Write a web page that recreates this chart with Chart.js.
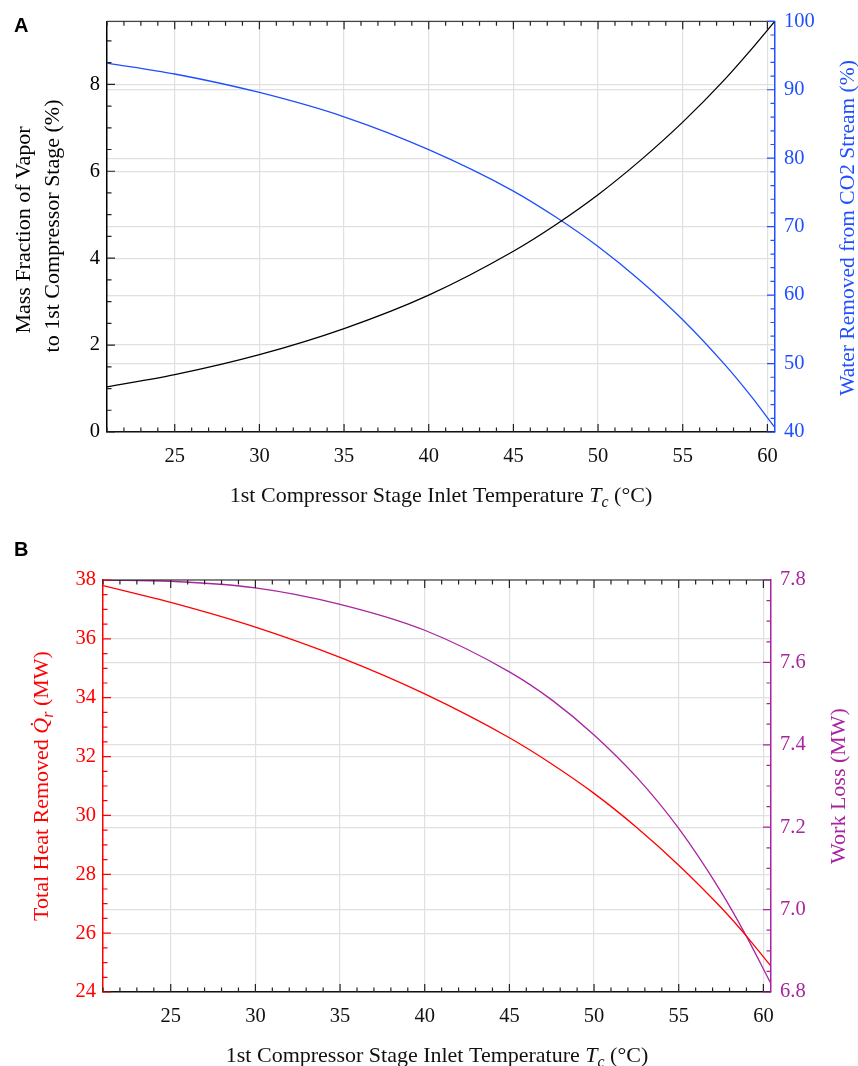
<!DOCTYPE html>
<html>
<head>
<meta charset="utf-8">
<script src="https://cdn.jsdelivr.net/npm/chart.js@4.4.1/dist/chart.umd.min.js"></script>
<style>
  html, body { margin: 0; padding: 0; background: #fff; }
  body { width: 858px; height: 1066px; position: relative; overflow: hidden; }
  .panel { position: absolute; left: 0; width: 858px; }
  #panelA { top: 0; height: 530px; }
  #panelB { top: 530px; height: 536px; }
  .tag { position: absolute; left: 14px; font: bold 20px "Liberation Sans", Arial, sans-serif; color: #000; }
</style>
</head>
<body>
<div class="panel" id="panelA"><canvas id="chartA"></canvas></div>
<div class="panel" id="panelB"><canvas id="chartB"></canvas></div>
<div class="tag" style="top:14px">A</div>
<div class="tag" style="top:538px">B</div>
<script>
// values
const tempC = [21, 25, 30, 35, 40, 45, 47.5, 50, 52.5, 55, 57.5, 59, 60.4];
const vaporFraction = [1.04, 1.32, 1.78, 2.38, 3.15, 4.16, 4.77, 5.46, 6.25, 7.13, 8.12, 8.78, 9.43];
const waterRemoved = [93.9, 92.3, 89.6, 86.05, 81.25, 75.2, 71.4, 67.1, 62.1, 56.4, 49.8, 45.35, 40.8];
const heatRemoved = [37.81, 37.24, 36.4, 35.37, 34.13, 32.64, 31.75, 30.75, 29.6, 28.31, 26.87, 25.9, 24.91];
const workLoss = [7.8, 7.797, 7.781, 7.741, 7.678, 7.577, 7.509, 7.424, 7.322, 7.197, 7.043, 6.935, 6.824];

const xTicks = [25, 30, 35, 40, 45, 50, 55, 60];
const vaporTicks = [0, 2, 4, 6, 8];
const waterTicks = [40, 50, 60, 70, 80, 90, 100];
const heatTicks = [24, 26, 28, 30, 32, 34, 36, 38];
const workTicks = [6.8, 7.0, 7.2, 7.4, 7.6, 7.8];

const BLUE = "#1f4fff";
const RED = "#ff0000";
const PURPLE = "#a8259f";
const GRID = "#e0e0e0";
const SERIF = '"Liberation Serif", "Times New Roman", serif';
const tickFont = { family: SERIF, size: 20.5 };

function points(ys) {
  return tempC.map((t, i) => ({ x: t, y: ys[i] }));
}

function minorValues(min, max, step) {
  const out = [];
  for (let k = Math.ceil(min / step - 1e-9); k * step <= max + 1e-9; k++) out.push(k * step);
  return out;
}

function drawRich(ctx, t) {
  const size = t.size || 22;
  const fontOf = p => `${p.italic ? "italic " : ""}${p.sub ? size * 0.72 : size}px ${SERIF}`;
  ctx.save();
  ctx.translate(t.x, t.y);
  ctx.rotate(t.angle || 0);
  ctx.fillStyle = t.color;
  ctx.textBaseline = "alphabetic";
  const widths = t.parts.map(p => { ctx.font = fontOf(p); return ctx.measureText(p.t).width; });
  let cx = -widths.reduce((a, b) => a + b, 0) / 2;
  t.parts.forEach((p, i) => {
    ctx.font = fontOf(p);
    ctx.fillText(p.t, cx, size * 0.33 + (p.sub ? size * 0.22 : 0));
    cx += widths[i];
  });
  ctx.restore();
}

const frameTicks = {
  id: "frameTicks",
  afterDatasetsDraw(chart, args, opts) {
    const { ctx, chartArea: a, scales } = chart;
    ctx.save();
    ctx.lineWidth = 1.2;
    ctx.strokeStyle = opts.frameColor;
    ctx.beginPath();
    ctx.moveTo(a.left, a.top);
    ctx.lineTo(a.right, a.top);
    ctx.stroke();
    opts.axes.forEach(ax => {
      const scale = scales[ax.id];
      const marks = ax.majors.map(v => [v, 8]);
      minorValues(scale.min, scale.max, ax.minorStep).forEach(v => {
        if (!ax.majors.some(m => Math.abs(m - v) < ax.minorStep / 10)) marks.push([v, 4.5]);
      });
      ctx.strokeStyle = ax.color;
      ctx.beginPath();
      marks.forEach(([v, len]) => {
        const p = scale.getPixelForValue(v);
        if (ax.side === "x") {
          ctx.moveTo(p, a.bottom); ctx.lineTo(p, a.bottom - len);
          ctx.moveTo(p, a.top); ctx.lineTo(p, a.top + len);
        } else if (ax.side === "left") {
          ctx.moveTo(a.left, p); ctx.lineTo(a.left + len, p);
        } else {
          ctx.moveTo(a.right, p); ctx.lineTo(a.right - len, p);
        }
      });
      ctx.stroke();
    });
    ctx.restore();
  },
  afterDraw(chart, args, opts) {
    opts.titles.forEach(t => drawRich(chart.ctx, t));
  }
};

function xAxis(height) {
  return {
    type: "linear",
    min: 21,
    max: 60.45,
    afterBuildTicks: s => { s.ticks = xTicks.map(v => ({ value: v })); },
    afterFit: s => { s.height = height; },
    grid: { color: GRID, lineWidth: 1.2, drawTicks: false },
    border: { color: "#111", width: 1.5 },
    ticks: { color: "#111", padding: 12, font: tickFont, maxRotation: 0 }
  };
}

function yAxis(position, min, max, values, color, width, fmt) {
  return {
    type: "linear",
    position,
    min,
    max,
    afterBuildTicks: s => { s.ticks = values.map(v => ({ value: v })); },
    afterFit: s => { s.width = width; },
    grid: { color: GRID, lineWidth: 1.2, drawTicks: false },
    border: { color, width: 1.5 },
    ticks: { color, padding: position === "left" ? 7 : 9, font: tickFont, callback: fmt || (v => v) }
  };
}

function line(label, ys, color, axis) {
  return {
    label,
    data: points(ys),
    borderColor: color,
    borderWidth: 1.3,
    pointRadius: 0,
    fill: false,
    cubicInterpolationMode: "monotone",
    yAxisID: axis
  };
}

const xTitle = [
  { t: "1st Compressor Stage Inlet Temperature " },
  { t: "T", italic: true },
  { t: "c", italic: true, sub: true },
  { t: " (\u00b0C)" }
];

new Chart(document.getElementById("chartA"), {
  type: "line",
  data: {
    datasets: [
      line("Mass Fraction of Vapor", vaporFraction, "#000", "y"),
      line("Water Removed", waterRemoved, BLUE, "y1")
    ]
  },
  options: {
    responsive: true,
    maintainAspectRatio: false,
    animation: false,
    layout: { padding: { top: 20, left: 0, right: 0, bottom: 0 } },
    scales: {
      x: xAxis(98),
      y: yAxis("left", 0, 9.45, vaporTicks, "#000", 107),
      y1: yAxis("right", 40, 100, waterTicks, BLUE, 83)
    },
    plugins: {
      legend: { display: false },
      tooltip: { enabled: false },
      frameTicks: {
        frameColor: "#444",
        axes: [
          { id: "x", side: "x", majors: xTicks, minorStep: 1, color: "#222" },
          { id: "y", side: "left", majors: vaporTicks, minorStep: 0.5, color: "#222" },
          { id: "y1", side: "right", majors: waterTicks, minorStep: 2, color: BLUE }
        ],
        titles: [
          { parts: xTitle, x: 441, y: 495, color: "#111" },
          { parts: [{ t: "Mass Fraction of Vapor" }], x: 23, y: 230, angle: -Math.PI / 2, color: "#000" },
          { parts: [{ t: "to 1st Compressor Stage (%)" }], x: 52, y: 226, angle: -Math.PI / 2, color: "#000" },
          { parts: [{ t: "Water Removed from CO2 Stream (%)" }], x: 847, y: 228, angle: -Math.PI / 2, color: BLUE, size: 21.5 }
        ]
      }
    }
  },
  plugins: [frameTicks]
});

new Chart(document.getElementById("chartB"), {
  type: "line",
  data: {
    datasets: [
      line("Total Heat Removed", heatRemoved, RED, "y"),
      line("Work Loss", workLoss, PURPLE, "y1")
    ]
  },
  options: {
    responsive: true,
    maintainAspectRatio: false,
    animation: false,
    layout: { padding: { top: 50, left: 0, right: 0, bottom: 0 } },
    scales: {
      x: xAxis(74),
      y: yAxis("left", 24, 38, heatTicks, RED, 103),
      y1: yAxis("right", 6.8, 7.8, workTicks, PURPLE, 87, v => v.toFixed(1))
    },
    plugins: {
      legend: { display: false },
      tooltip: { enabled: false },
      frameTicks: {
        frameColor: "#222",
        axes: [
          { id: "x", side: "x", majors: xTicks, minorStep: 1, color: "#222" },
          { id: "y", side: "left", majors: heatTicks, minorStep: 0.5, color: RED },
          { id: "y1", side: "right", majors: workTicks, minorStep: 0.05, color: PURPLE }
        ],
        titles: [
          { parts: xTitle, x: 437, y: 525, color: "#111" },
          {
            parts: [
              { t: "Total Heat Removed " },
              { t: "Q\u0307", italic: true },
              { t: "r", italic: true, sub: true },
              { t: " (MW)" }
            ],
            x: 41, y: 256, angle: -Math.PI / 2, color: RED
          },
          { parts: [{ t: "Work Loss (MW)" }], x: 838, y: 256, angle: -Math.PI / 2, color: PURPLE }
        ]
      }
    }
  },
  plugins: [frameTicks]
});
</script>
</body>
</html>
